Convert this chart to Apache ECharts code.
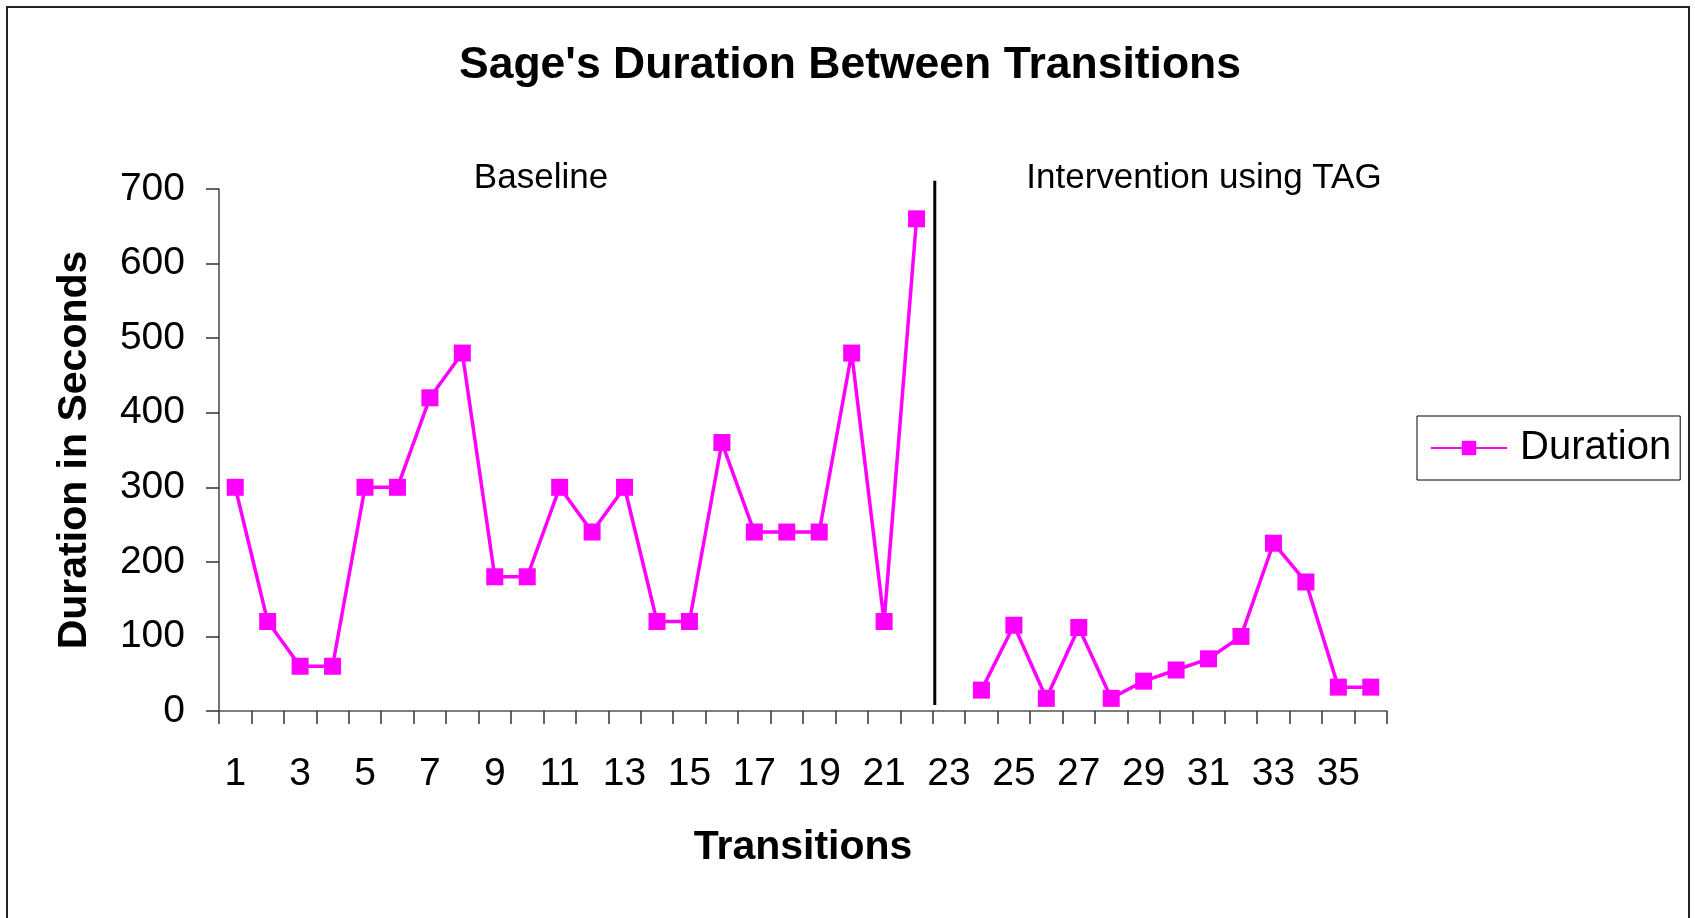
<!DOCTYPE html>
<html>
	<head>
		<meta charset="UTF-8">
		<title>Sage's Duration Between Transitions</title>
		<script src="https://cdn.jsdelivr.net/npm/echarts@6/dist/echarts.min.js" type="text/javascript" charset="utf-8"></script>
		<style>
			html, body { margin: 0; padding: 0; background: #fff; }
		</style>
	</head>
	<body>
		<div id="chart" style="width:1695px;height:918px;"></div>
	</body>
	<script type="text/javascript">
        // transitions 1..36, no point at 23 (phase change)
        var transitions = [];
        for (var i = 1; i <= 36; i++) transitions.push(String(i));

        var baseline = [300, 120, 60, 60, 300, 300, 420, 480, 180, 180, 300, 240, 300, 120, 120, 360, 240, 240, 240, 480, 120, 660];
        var intervention = [28, 115, 17, 112, 17, 40, 55, 70, 100, 225, 173, 32, 32];
        var duration = baseline.concat([null], intervention);

        var phaseBreak = 22.5;      // between transition 22 and 23
        var breakLine = [8, 711];   // y-range of the separator, in seconds

        var chart = echarts.init(document.getElementById('chart'));
        var font = 'Liberation Sans, Arial, sans-serif';

        chart.setOption({
            animation: false,
            backgroundColor: '#fff',
            textStyle: { fontFamily: font },
            title: {
                text: "Sage's Duration Between Transitions",
                left: 845, top: 38, textAlign: 'center',
                textStyle: { fontSize: 44.5, fontWeight: 'bold', color: '#000', fontFamily: font }
            },
            legend: {
                left: 1417, top: 416,
                padding: [12, 9, 12, 13],
                borderColor: '#000', borderWidth: 1,
                itemWidth: 76, itemHeight: 18,
                textStyle: { fontSize: 40, color: '#000', fontFamily: font, padding: [0, 0, 0, 8] },
                data: ['Duration']
            },
            grid: { left: 219, right: 308, top: 189, bottom: 207 },
            xAxis: [{
                type: 'category',
                data: transitions,
                boundaryGap: true,
                name: 'Transitions',
                nameLocation: 'middle',
                nameGap: 116,
                nameTextStyle: { fontSize: 41, fontWeight: 'bold', color: '#000', fontFamily: font },
                axisLine: { show: true, lineStyle: { color: '#555', width: 1.5 } },
                axisTick: { show: true, length: 13, inside: false, alignWithLabel: false, interval: 0, lineStyle: { color: '#333', width: 1.5 } },
                axisLabel: { interval: 1, fontSize: 39, color: '#000', margin: 44, fontFamily: font }
            }, {
                type: 'value',
                min: 0.5, max: 36.5,
                show: false
            }],
            yAxis: {
                type: 'value',
                min: 0, max: 700, interval: 100,
                name: 'Duration in Seconds',
                nameLocation: 'middle',
                nameGap: 124,
                nameTextStyle: { fontSize: 41, fontWeight: 'bold', color: '#000', fontFamily: font },
                axisLine: { show: true, lineStyle: { color: '#444', width: 1.5 } },
                axisTick: { show: true, length: 13, lineStyle: { color: '#333', width: 1.5 } },
                axisLabel: { fontSize: 39, color: '#000', margin: 34, fontFamily: font },
                splitLine: { show: false }
            },
            series: [{
                name: 'Duration',
                type: 'line',
                data: duration,
                connectNulls: false,
                symbol: 'rect',
                symbolSize: 17,
                itemStyle: { color: '#FF00FF' },
                lineStyle: { color: '#FF00FF', width: 3.5 }
            }]
        });

        // separator line and phase labels, placed through the axes
        var px = chart.convertToPixel({ xAxisIndex: 1 }, phaseBreak);
        var pyTop = chart.convertToPixel({ yAxisIndex: 0 }, breakLine[1]);
        var pyBottom = chart.convertToPixel({ yAxisIndex: 0 }, breakLine[0]);

        chart.setOption({
            graphic: [{
                type: 'line',
                shape: { x1: px + 2, y1: pyTop, x2: px + 2, y2: pyBottom },
                style: { stroke: '#000', lineWidth: 3 }
            }, {
                type: 'text',
                x: 541, y: 178,
                style: { text: 'Baseline', font: '35px ' + font, fill: '#000', textAlign: 'center', textVerticalAlign: 'middle' }
            }, {
                type: 'text',
                x: 1204, y: 178,
                style: { text: 'Intervention using TAG', font: '35px ' + font, fill: '#000', textAlign: 'center', textVerticalAlign: 'middle' }
            }, {
                type: 'rect',
                shape: { x: 7, y: 7, width: 1682, height: 930 },
                style: { fill: null, stroke: '#222', lineWidth: 2 },
                silent: true
            }]
        });
	</script>
</html>
